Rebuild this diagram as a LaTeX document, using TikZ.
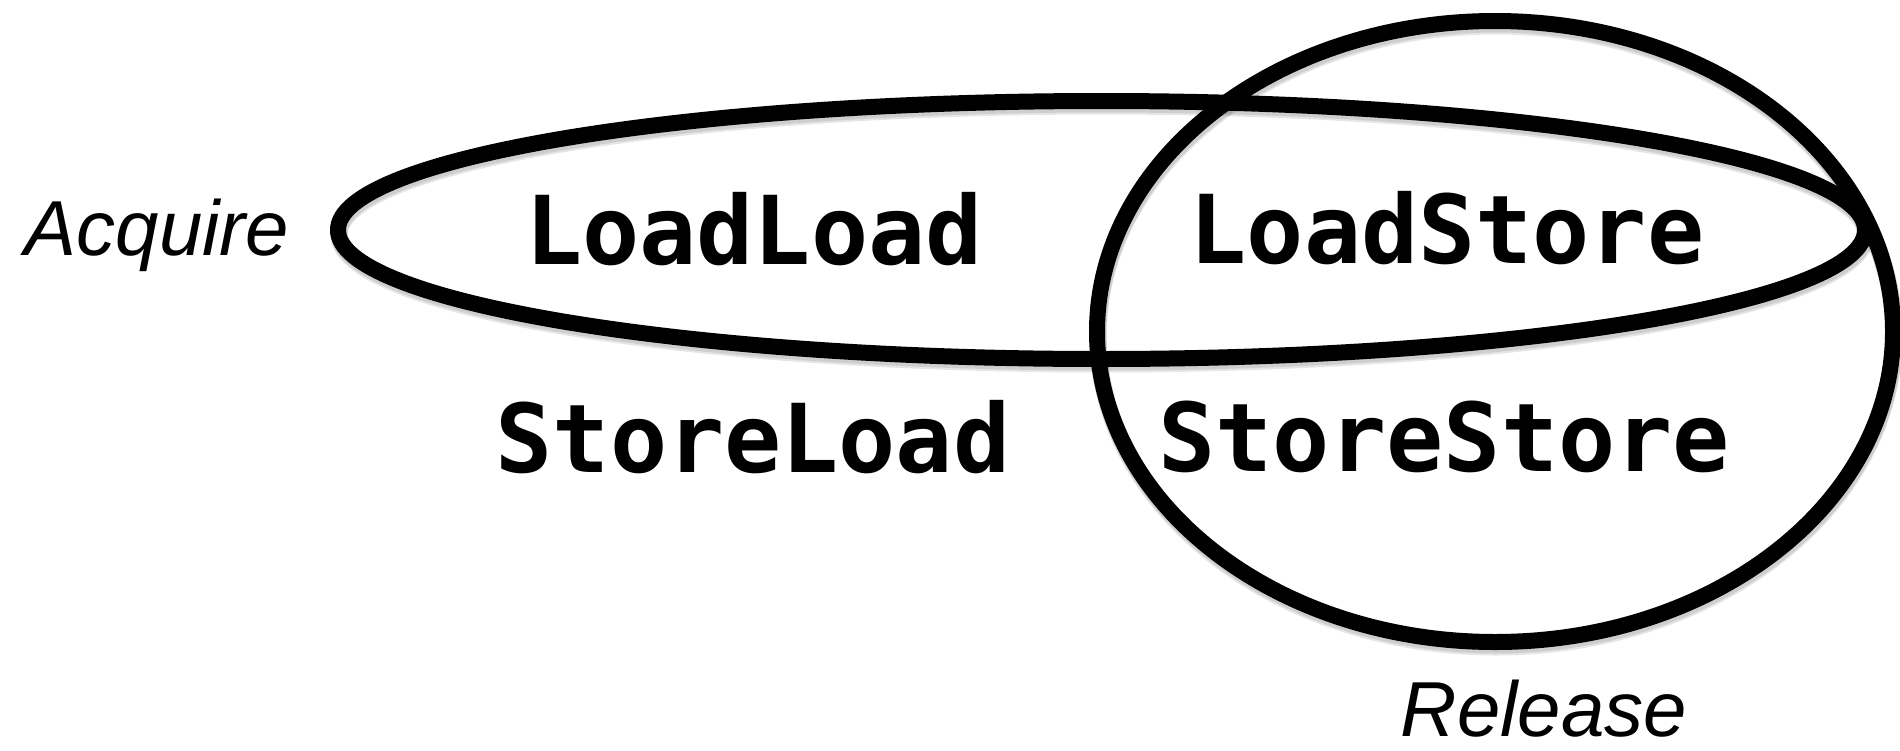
\documentclass[tikz,border=0pt]{standalone}
\usepackage{fontspec}
\setmonofont{DejaVu Sans Mono}
\setsansfont{Liberation Sans}
\begin{document}
\begin{tikzpicture}[x=1pt,y=-1pt,
  ring/.style={line width=16pt, draw=black},
  ringshade/.style={line width=17pt, draw=black, opacity=0.10},
  fence/.style={font=\fontsize{95}{100}\selectfont\ttfamily\bfseries, anchor=base, inner sep=0pt},
  kind/.style={font=\fontsize{78}{80}\selectfont\sffamily\itshape, anchor=base, inner sep=0pt}]
\useasboundingbox (0,0) rectangle (1900,750);

% soft drop shadow under the two sets
\foreach \dy in {3,5}{
  \draw[ringshade, shift={(1,\dy)}] (1101.5,230) ellipse [x radius=763.5, y radius=129];
  \draw[ringshade, shift={(1,\dy)}] (1495,331.5) ellipse [x radius=398, y radius=310.5];
}

% acquire set (wide) and release set (round)
\draw[ring] (1101.5,230) ellipse [x radius=763.5, y radius=129];
\draw[ring] (1495,331.5) ellipse [x radius=398, y radius=310.5];

% set labels
\node[kind] (acq) at (157,255) {Acquire};
\node[kind] (rel) at (1544,736) {Release};

% barrier kinds
\node[fence] (ll) at (754,264) {LoadLoad};
\node[fence] (ls) at (1447,263) {LoadStore};
\node[fence] (sl) at (753,472) {StoreLoad};
\node[fence] (ss) at (1444,471) {StoreStore};
\end{tikzpicture}
\end{document}
